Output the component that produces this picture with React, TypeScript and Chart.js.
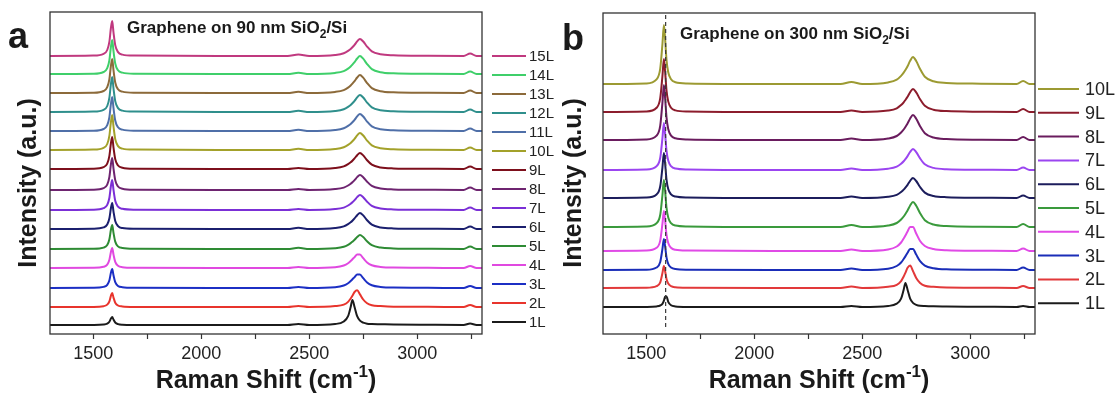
import React, { useEffect, useRef } from "react";
import { Chart, registerables } from "chart.js";

Chart.register(...registerables);

const FONT = '"Liberation Sans", Arial, Helvetica, sans-serif';

// Raman shift sample positions (cm^-1) shared by every spectrum
const ramanShift = [
  1300, 1500, 1548, 1565, 1575, 1582, 1588, 1594, 1602, 1615, 1635, 1690,
  2100, 2400, 2450, 2500,
  2620, 2660, 2680, 2692, 2700, 2710, 2722, 2735, 2750, 2768, 2790, 2830, 2890,
  3050, 3215, 3245, 3275, 3300,
];

const xTickLabels = [1500, 2000, 2500, 3000];
const xMinorTicks = [1750, 2250, 2750, 3250];
const xMin = 1300;
const xMax = 3300;

// ---------- (a) graphene on 90 nm SiO2/Si ----------
const layersA = ["1L", "2L", "3L", "4L", "5L", "6L", "7L", "8L", "9L", "10L", "11L", "12L", "13L", "14L", "15L"];
const colorsA = [
  "#1b1b1b", "#e8342c", "#1c2fc4", "#e049e0", "#2e8b34", "#1b1f6e", "#7b2fd6", "#6e2470",
  "#7d0f1c", "#a3a12a", "#4f6fa8", "#2f8f8c", "#8c6a3a", "#3fcf6a", "#c0397f",
];
// vertical stacking offsets (a.u.)
const offsetsA = [9, 27, 46, 66, 85, 105, 124, 144, 165, 184, 203, 222, 241, 260, 278];

const a1L = [0, 0.1, 0.5, 1.4, 3.3, 6.4, 8, 5.4, 2.5, 0.9, 0.3, 0.1, 0, 0, 1, 0, 1, 3.5, 8.8, 18, 25, 18, 8.8, 4.3, 2.3, 1.3, 1, 0.8, 0.5, 0.2, 0, 1.5, 0, 0];
const a2L = [0, 0.1, 0.8, 2.4, 5.7, 11.2, 14, 9.4, 4.3, 1.5, 0.6, 0.1, 0, 0, 1, 0, 0.9, 2.4, 5.1, 8.5, 11.2, 15, 16.7, 12.6, 7.5, 3.7, 1.7, 0.9, 0.3, 0.2, 0, 2, 0, 0];
const a3L = [0, 0.2, 1.1, 3.2, 7.8, 15.2, 19, 12.7, 5.9, 2.1, 0.8, 0.2, 0, 0, 1, 0, 0.8, 2.5, 4.8, 7, 8.7, 10.9, 13.4, 13.4, 9.8, 5.6, 2.8, 1.1, 0.4, 0.2, 0, 2, 0, 0];
const a4L = [0, 0.2, 1.2, 3.4, 8.2, 16, 20, 13.4, 6.2, 2.2, 0.8, 0.2, 0, 0, 1, 0, 0.8, 2.5, 4.8, 7, 8.7, 10.9, 13.4, 13.4, 9.8, 5.6, 2.8, 1.1, 0.4, 0.2, 0, 2, 0, 0];
const a5L = [0, 0.2, 1.4, 4.1, 9.8, 19.2, 24, 16.1, 7.4, 2.6, 1, 0.2, 0, 0, 1.2, 0, 0.8, 2.2, 4.2, 5.9, 7.3, 9.2, 12, 14, 11.9, 7.7, 3.8, 1.4, 0.6, 0.2, 0, 2.5, 0, 0];
const a6L = [0, 0.3, 1.6, 4.4, 10.7, 20.8, 26, 17.4, 8.1, 2.9, 1, 0.3, 0, 0, 1.2, 0, 1, 2.6, 4.8, 6.7, 8.3, 10.6, 13.8, 16, 13.6, 8.8, 4.3, 1.6, 0.6, 0.2, 0, 2.5, 0, 0];
const a7L = [0, 0.3, 1.8, 5.1, 12.3, 24, 30, 20.1, 9.3, 3.3, 1.2, 0.3, 0, 0, 1, 0, 0.9, 2.4, 4.5, 6.3, 7.8, 9.9, 12.9, 15, 12.8, 8.3, 4.1, 1.5, 0.6, 0.2, 0, 2.5, 0, 0];
const a8L = [0, 0.3, 1.9, 5.4, 13.1, 25.6, 32, 21.4, 9.9, 3.5, 1.3, 0.3, 0, 0, 1, 0, 0.9, 2.4, 4.5, 6.3, 7.8, 9.9, 12.9, 15, 12.8, 8.3, 4.1, 1.5, 0.6, 0.2, 0, 2.5, 0, 0];
const a9L = [0, 0.3, 1.9, 5.4, 13.1, 25.6, 32, 21.4, 9.9, 3.5, 1.3, 0.3, 0, 0, 1, 0, 1, 2.6, 4.8, 6.7, 8.3, 10.6, 13.8, 16, 13.6, 8.8, 4.3, 1.6, 0.6, 0.2, 0, 2.5, 0, 0];
const a10L = [0, 0.4, 2.1, 6, 14.4, 28, 35, 23.5, 10.9, 3.9, 1.4, 0.4, 0, 0, 1.2, 0, 1, 2.7, 5.1, 7.1, 8.8, 11.2, 14.6, 17, 14.5, 9.4, 4.6, 1.7, 0.7, 0.2, 0, 2.5, 0, 0];
const a11L = [0, 0.3, 2, 5.8, 13.9, 27.2, 34, 22.8, 10.5, 3.7, 1.4, 0.3, 0, 0, 1.2, 0, 1, 2.7, 5.1, 7.1, 8.8, 11.2, 14.6, 17, 14.5, 9.4, 4.6, 1.7, 0.7, 0.2, 0, 2.5, 0, 0];
const a12L = [0, 0.4, 2.1, 6, 14.4, 28, 35, 23.5, 10.9, 3.9, 1.4, 0.4, 0, 0, 1.2, 0, 1, 2.7, 5.1, 7.1, 8.8, 11.2, 14.6, 17, 14.5, 9.4, 4.6, 1.7, 0.7, 0.2, 0, 2.5, 0, 0];
const a13L = [0, 0.3, 2, 5.8, 13.9, 27.2, 34, 22.8, 10.5, 3.7, 1.4, 0.3, 0, 0, 1.2, 0, 1.1, 2.9, 5.4, 7.6, 9.4, 11.9, 15.5, 18, 15.3, 9.9, 4.9, 1.8, 0.7, 0.2, 0, 2.5, 0, 0];
const a14L = [0, 0.3, 2, 5.8, 13.9, 27.2, 34, 22.8, 10.5, 3.7, 1.4, 0.3, 0, 0, 1.2, 0, 1.1, 2.9, 5.4, 7.6, 9.4, 11.9, 15.5, 18, 15.3, 9.9, 4.9, 1.8, 0.7, 0.2, 0, 2.5, 0, 0];
const a15L = [0, 0.4, 2.1, 6, 14.4, 28, 35, 23.5, 10.9, 3.9, 1.4, 0.4, 0, 0, 1.5, 0, 1, 2.7, 5.1, 7.1, 8.8, 11.2, 14.6, 17, 14.5, 9.4, 4.6, 1.7, 0.7, 0.2, 0, 2.5, 0, 0];
const spectraA = [a1L, a2L, a3L, a4L, a5L, a6L, a7L, a8L, a9L, a10L, a11L, a12L, a13L, a14L, a15L];

// ---------- (b) graphene on 300 nm SiO2/Si ----------
const layersB = ["1L", "2L", "3L", "4L", "5L", "6L", "7L", "8L", "9L", "10L"];
const colorsB = [
  "#1b1b1b", "#e2393a", "#1a2db8", "#e04ae6", "#3a9a3c",
  "#1c1d5c", "#9b45f0", "#6a1c5e", "#8c1c2c", "#9c9a32",
];
const offsetsB = [27, 46, 64, 83, 107, 136, 164, 194, 222, 250];

const b1L = [0, 0.1, 0.6, 1.5, 3.2, 6.3, 10.6, 10.6, 5.2, 1.7, 0.6, 0.1, 0, 0, 1, 0, 1, 3.4, 8.4, 17.3, 24, 17.3, 8.4, 4.1, 2.2, 1.2, 1, 0.7, 0.5, 0.3, 0, 1, 0, 0];
const b2L = [0, 0.2, 1.8, 5.7, 14.7, 22, 16.3, 9, 4.4, 1.8, 0.7, 0.2, 0, 0, 1.5, 0, 1.2, 3.2, 6.9, 11.5, 15.2, 20.2, 22.5, 17, 10.1, 5.1, 2.3, 1.2, 0.5, 0.3, 0, 2, 0, 0];
const b3L = [0, 0.3, 2.5, 8.1, 20.8, 31, 22.9, 12.7, 6.2, 2.5, 0.9, 0.3, 0, 0, 1.5, 0, 1.3, 4, 7.5, 11, 13.6, 17.2, 21.1, 21.1, 15.4, 8.8, 4.4, 1.8, 0.7, 0.3, 0, 2.5, 0, 0];
const b4L = [0, 0.4, 3.2, 10.4, 26.8, 40, 29.6, 16.4, 8, 3.2, 1.2, 0.4, 0, 0, 1.5, 0, 1.5, 4.5, 8.5, 12.5, 15.5, 19.5, 24, 24, 17.5, 10, 5, 2, 0.8, 0.3, 0, 2.5, 0, 0];
const b5L = [0, 0.5, 3.8, 12.2, 31.5, 47, 34.8, 19.3, 9.4, 3.8, 1.4, 0.5, 0, 0, 2, 0, 1.5, 4, 7.5, 10.5, 13, 16.5, 21.5, 25, 21.3, 13.8, 6.8, 2.5, 1, 0.3, 0, 3, 0, 0];
const b6L = [0, 0.5, 3.6, 11.7, 30.2, 45, 33.3, 18.5, 9, 3.6, 1.4, 0.5, 0, 0, 1.5, 0, 1.2, 3.2, 6, 8.4, 10.4, 13.2, 17.2, 20, 17, 11, 5.4, 2, 0.8, 0.3, 0, 2.5, 0, 0];
const b7L = [0, 0.5, 3.8, 12.2, 31.5, 47, 34.8, 19.3, 9.4, 3.8, 1.4, 0.5, 0, 0, 1.5, 0, 1.3, 3.4, 6.3, 8.8, 10.9, 13.9, 18.1, 21, 17.9, 11.6, 5.7, 2.1, 0.8, 0.3, 0, 2.5, 0, 0];
const b8L = [0, 0.6, 4.4, 14.3, 36.9, 55, 40.7, 22.6, 11, 4.4, 1.7, 0.6, 0, 0, 1.5, 0, 1.5, 4, 7.5, 10.5, 13, 16.5, 21.5, 25, 21.3, 13.8, 6.8, 2.5, 1, 0.3, 0, 3, 0, 0];
const b9L = [0, 0.5, 4.2, 13.8, 35.5, 53, 39.2, 21.7, 10.6, 4.2, 1.6, 0.5, 0, 0, 1.5, 0, 1.4, 3.7, 6.9, 9.7, 12, 15.2, 19.8, 23, 19.6, 12.7, 6.2, 2.3, 0.9, 0.3, 0, 3, 0, 0];
const b10L = [0, 0.6, 4.7, 15.3, 39.5, 59, 43.7, 24.2, 11.8, 4.7, 1.8, 0.6, 0, 0, 2, 0, 1.6, 4.3, 8.1, 11.3, 14, 17.8, 23.2, 27, 23, 14.9, 7.3, 2.7, 1.1, 0.3, 0, 3, 0, 0];
const spectraB = [b1L, b2L, b3L, b4L, b5L, b6L, b7L, b8L, b9L, b10L];

// dashed guide through the single-layer G band
const gBandMarker = 1590;
const gBandMarkerSpan = [7, 321];

type Run = { text: string; font: string; dy?: number };

type PanelSpec = {
  letter: string;
  letterPos: [number, number];
  titleRuns: Run[];
  titlePos: [number, number];
  yTitlePos: [number, number];
  padding: { left: number; right: number; top: number };
  yMax: number;
  legend: { x0: number; x1: number; textX: number; top: number; step: number; size: number };
  layers: string[];
  colors: string[];
  offsets: number[];
  spectra: number[][];
  marker?: number;
};

function drawRuns(ctx: CanvasRenderingContext2D, runs: Run[], x: number, y: number, center: boolean) {
  let total = 0;
  for (const r of runs) {
    ctx.font = r.font;
    total += ctx.measureText(r.text).width;
  }
  let cx = center ? x - total / 2 : x;
  ctx.textAlign = "left";
  ctx.textBaseline = "alphabetic";
  for (const r of runs) {
    ctx.font = r.font;
    ctx.fillText(r.text, cx, y + (r.dy || 0));
    cx += ctx.measureText(r.text).width;
  }
}

function decorations(spec: PanelSpec) {
  return {
    id: "panelDecorations",
    afterDraw(chart: Chart) {
      const ctx = chart.ctx;
      const area = chart.chartArea;
      ctx.save();

      // plot frame
      ctx.strokeStyle = "#333";
      ctx.lineWidth = 1.3;
      ctx.strokeRect(area.left, area.top, area.right - area.left, area.bottom - area.top);

      ctx.fillStyle = "#1a1a1a";

      // panel letter
      ctx.font = `bold 36px ${FONT}`;
      ctx.textAlign = "left";
      ctx.textBaseline = "alphabetic";
      ctx.fillText(spec.letter, spec.letterPos[0], spec.letterPos[1]);

      // in-plot caption
      drawRuns(ctx, spec.titleRuns, spec.titlePos[0], spec.titlePos[1], false);

      // x-axis title with superscript
      drawRuns(
        ctx,
        [
          { text: "Raman Shift (cm", font: `bold 25px ${FONT}` },
          { text: "-1", font: `bold 17px ${FONT}`, dy: -11 },
          { text: ")", font: `bold 25px ${FONT}` },
        ],
        (area.left + area.right) / 2,
        388,
        true
      );

      // y-axis title
      ctx.save();
      ctx.translate(spec.yTitlePos[0], spec.yTitlePos[1]);
      ctx.rotate(-Math.PI / 2);
      ctx.font = `bold 25px ${FONT}`;
      ctx.textAlign = "center";
      ctx.textBaseline = "middle";
      ctx.fillText("Intensity (a.u.)", 0, 0);
      ctx.restore();

      // legend, highest layer count on top
      const lg = spec.legend;
      const n = spec.layers.length;
      ctx.font = `${lg.size}px ${FONT}`;
      ctx.textAlign = "left";
      ctx.textBaseline = "middle";
      for (let i = 0; i < n; i++) {
        const row = n - 1 - i;
        const y = lg.top + row * lg.step;
        ctx.strokeStyle = spec.colors[i];
        ctx.lineWidth = 2;
        ctx.beginPath();
        ctx.moveTo(lg.x0, y);
        ctx.lineTo(lg.x1, y);
        ctx.stroke();
        ctx.fillStyle = "#222";
        ctx.fillText(spec.layers[i], lg.textX, y + 1);
      }

      ctx.restore();
    },
  };
}

function buildChart(canvas: HTMLCanvasElement, spec: PanelSpec) {
  const datasets: any[] = [];
  if (spec.marker !== undefined) {
    datasets.push({
      label: "G band",
      data: gBandMarkerSpan.map((y) => ({ x: spec.marker, y })),
      borderColor: "#3a3a3a",
      borderWidth: 1.2,
      borderDash: [4, 3],
      pointRadius: 0,
      tension: 0,
      fill: false,
    });
  }
  spec.spectra.forEach((row, i) => {
    datasets.push({
      label: spec.layers[i],
      data: ramanShift.map((x, k) => ({ x, y: spec.offsets[i] + row[k] })),
      borderColor: spec.colors[i],
      borderWidth: 2,
      pointRadius: 0,
      cubicInterpolationMode: "monotone",
      fill: false,
    });
  });

  const tickValues = [...xTickLabels, ...xMinorTicks].sort((p, q) => p - q);

  return new Chart(canvas, {
    type: "line",
    data: { datasets },
    options: {
      responsive: false,
      maintainAspectRatio: false,
      animation: false,
      events: [],
      layout: { padding: { left: spec.padding.left, right: spec.padding.right, top: spec.padding.top, bottom: 0 } },
      plugins: {
        legend: { display: false },
        tooltip: { enabled: false },
        title: { display: false },
      },
      scales: {
        x: {
          type: "linear",
          min: xMin,
          max: xMax,
          afterBuildTicks: (scale: any) => {
            scale.ticks = tickValues.map((value) => ({ value }));
          },
          afterFit: (scale: any) => {
            scale.height = 60;
          },
          border: { display: false },
          grid: {
            drawOnChartArea: false,
            drawTicks: true,
            tickLength: 5,
            tickColor: "#333",
            tickWidth: 1.2,
          },
          ticks: {
            autoSkip: false,
            maxRotation: 0,
            minRotation: 0,
            padding: 4,
            color: "#222",
            font: { family: FONT, size: 18 },
            callback: (v: any) => (xTickLabels.includes(Number(v)) ? String(v) : ""),
          },
        },
        y: { type: "linear", display: false, min: 0, max: spec.yMax },
      },
    } as any,
    plugins: [decorations(spec)],
  });
}

const panelA: PanelSpec = {
  letter: "a",
  letterPos: [8, 48],
  titleRuns: [
    { text: "Graphene on 90 nm SiO", font: `bold 17px ${FONT}` },
    { text: "2", font: `bold 12px ${FONT}`, dy: 5 },
    { text: "/Si", font: `bold 17px ${FONT}` },
  ],
  titlePos: [127, 33],
  yTitlePos: [29, 183],
  padding: { left: 50, right: 78, top: 12 },
  yMax: 322,
  legend: { x0: 492, x1: 526, textX: 529, top: 56, step: 19, size: 15 },
  layers: layersA,
  colors: colorsA,
  offsets: offsetsA,
  spectra: spectraA,
};

const panelB: PanelSpec = {
  letter: "b",
  letterPos: [2, 50],
  titleRuns: [
    { text: "Graphene on 300 nm SiO", font: `bold 17px ${FONT}` },
    { text: "2", font: `bold 12px ${FONT}`, dy: 5 },
    { text: "/Si", font: `bold 17px ${FONT}` },
  ],
  titlePos: [120, 39],
  yTitlePos: [14, 183],
  padding: { left: 43, right: 85, top: 13 },
  yMax: 321,
  legend: { x0: 478, x1: 519, textX: 525, top: 89, step: 23.8, size: 18 },
  layers: layersB,
  colors: colorsB,
  offsets: offsetsB,
  spectra: spectraB,
  marker: gBandMarker,
};

export default function App() {
  const refA = useRef<HTMLCanvasElement>(null);
  const refB = useRef<HTMLCanvasElement>(null);

  useEffect(() => {
    Chart.defaults.font.family = FONT;
    const ca = refA.current ? buildChart(refA.current, panelA) : null;
    const cb = refB.current ? buildChart(refB.current, panelB) : null;
    return () => {
      ca?.destroy();
      cb?.destroy();
    };
  }, []);

  return (
    <div style={{ position: "absolute", left: 0, top: 0, width: 1120, height: 394, background: "#fff" }}>
      <canvas ref={refA} width={560} height={394} style={{ position: "absolute", left: 0, top: 0 }} />
      <canvas ref={refB} width={560} height={394} style={{ position: "absolute", left: 560, top: 0 }} />
    </div>
  );
}
